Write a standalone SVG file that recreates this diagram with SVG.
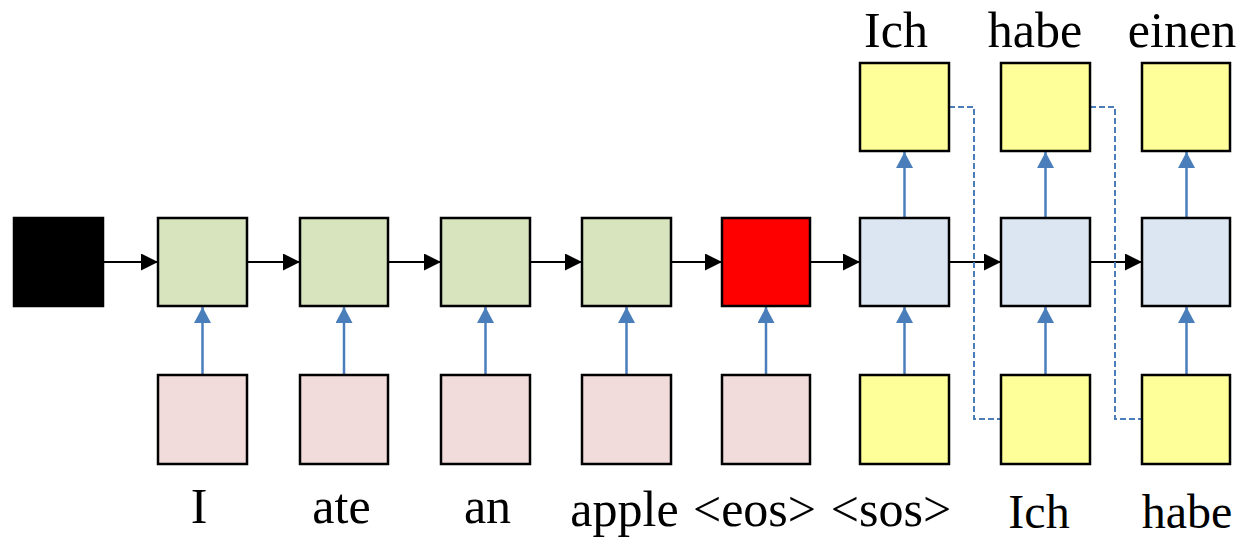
<svg xmlns="http://www.w3.org/2000/svg" width="1242" height="539" viewBox="0 0 1242 539">
<defs>
<style>
.b{stroke:#000;stroke-width:2.5}
.g{fill:#D7E4BD}.p{fill:#F2DCDB}.r{fill:#FF0000}.k{fill:#000}.u{fill:#DCE6F2}.y{fill:#FFFF99}
.ha{stroke:#000;stroke-width:2;fill:none}
.va{stroke:#4A7EBB;stroke-width:2.5;fill:none}
.da{stroke:#4A7EBB;stroke-width:2;fill:none;stroke-dasharray:6,3}
text{font-family:"Liberation Serif","Times New Roman",serif;font-size:50px;fill:#000;text-anchor:middle}
.lo{font-size:48px}
</style>
<marker id="ak" markerUnits="userSpaceOnUse" markerWidth="17" markerHeight="17" refX="17" refY="8.5" orient="auto"><path d="M0,0 L17,8.5 L0,17 z" fill="#000"/></marker>
<marker id="ab" markerUnits="userSpaceOnUse" markerWidth="16" markerHeight="17" refX="16" refY="8.5" orient="auto"><path d="M0,0 L16,8.5 L0,17 z" fill="#4A7EBB"/></marker>
</defs>
<g id="connectors">
<line class="ha" x1="103" y1="262" x2="158" y2="262" marker-end="url(#ak)"/>
<line class="ha" x1="247" y1="262" x2="300" y2="262" marker-end="url(#ak)"/>
<line class="ha" x1="388" y1="262" x2="441" y2="262" marker-end="url(#ak)"/>
<line class="ha" x1="530" y1="262" x2="582" y2="262" marker-end="url(#ak)"/>
<line class="ha" x1="671" y1="262" x2="722" y2="262" marker-end="url(#ak)"/>
<line class="ha" x1="810" y1="262" x2="860" y2="262" marker-end="url(#ak)"/>
<line class="ha" x1="949" y1="262" x2="1001" y2="262" marker-end="url(#ak)"/>
<line class="ha" x1="1090" y1="262" x2="1142" y2="262" marker-end="url(#ak)"/>
<line class="va" x1="202.5" y1="375" x2="202.5" y2="307" marker-end="url(#ab)"/>
<line class="va" x1="344" y1="375" x2="344" y2="307" marker-end="url(#ab)"/>
<line class="va" x1="485.5" y1="375" x2="485.5" y2="307" marker-end="url(#ab)"/>
<line class="va" x1="626.5" y1="375" x2="626.5" y2="307" marker-end="url(#ab)"/>
<line class="va" x1="766" y1="375" x2="766" y2="307" marker-end="url(#ab)"/>
<line class="va" x1="904.5" y1="375" x2="904.5" y2="307" marker-end="url(#ab)"/>
<line class="va" x1="1045.5" y1="375" x2="1045.5" y2="307" marker-end="url(#ab)"/>
<line class="va" x1="1186.5" y1="375" x2="1186.5" y2="307" marker-end="url(#ab)"/>
<line class="va" x1="904.5" y1="218" x2="904.5" y2="152" marker-end="url(#ab)"/>
<line class="va" x1="1045.5" y1="218" x2="1045.5" y2="152" marker-end="url(#ab)"/>
<line class="va" x1="1186.5" y1="218" x2="1186.5" y2="152" marker-end="url(#ab)"/>
<polyline class="da" points="949,107 974,107 974,419 1001,419"/>
<polyline class="da" points="1090,107 1115,107 1115,419 1142,419"/>
</g>
<g id="init"><rect class="b k" x="14" y="218" width="89" height="88"/></g>
<g id="enc1"><rect class="b g" x="158" y="218" width="89" height="88"/></g>
<g id="enc2"><rect class="b g" x="300" y="218" width="88" height="88"/></g>
<g id="enc3"><rect class="b g" x="441" y="218" width="89" height="88"/></g>
<g id="enc4"><rect class="b g" x="582" y="218" width="89" height="88"/></g>
<g id="enc5"><rect class="b r" x="722" y="218" width="88" height="88"/></g>
<g id="dec1"><rect class="b u" x="860" y="218" width="89" height="88"/></g>
<g id="dec2"><rect class="b u" x="1001" y="218" width="89" height="88"/></g>
<g id="dec3"><rect class="b u" x="1142" y="218" width="88" height="88"/></g>
<g id="in1"><rect class="b p" x="158" y="375" width="89" height="89"/><text x="199" y="523">I</text></g>
<g id="in2"><rect class="b p" x="300" y="375" width="88" height="89"/><text x="341.5" y="523">ate</text></g>
<g id="in3"><rect class="b p" x="441" y="375" width="89" height="89"/><text x="487.5" y="523">an</text></g>
<g id="in4"><rect class="b p" x="582" y="375" width="89" height="89"/><text x="624.5" y="526">apple</text></g>
<g id="in5"><rect class="b p" x="722" y="375" width="88" height="89"/><text x="754.5" y="526">&lt;eos&gt;</text></g>
<g id="din1"><rect class="b y" x="860" y="375" width="89" height="89"/><text x="891" y="526">&lt;sos&gt;</text></g>
<g id="din2"><rect class="b y" x="1001" y="375" width="89" height="89"/><text class="lo" x="1039" y="528">Ich</text></g>
<g id="din3"><rect class="b y" x="1142" y="375" width="88" height="89"/><text class="lo" x="1187" y="528">habe</text></g>
<g id="out1"><rect class="b y" x="860" y="63" width="89" height="88"/><text x="896" y="47">Ich</text></g>
<g id="out2"><rect class="b y" x="1001" y="63" width="89" height="88"/><text x="1035" y="47">habe</text></g>
<g id="out3"><rect class="b y" x="1142" y="63" width="88" height="88"/><text x="1182" y="47">einen</text></g>
</svg>
